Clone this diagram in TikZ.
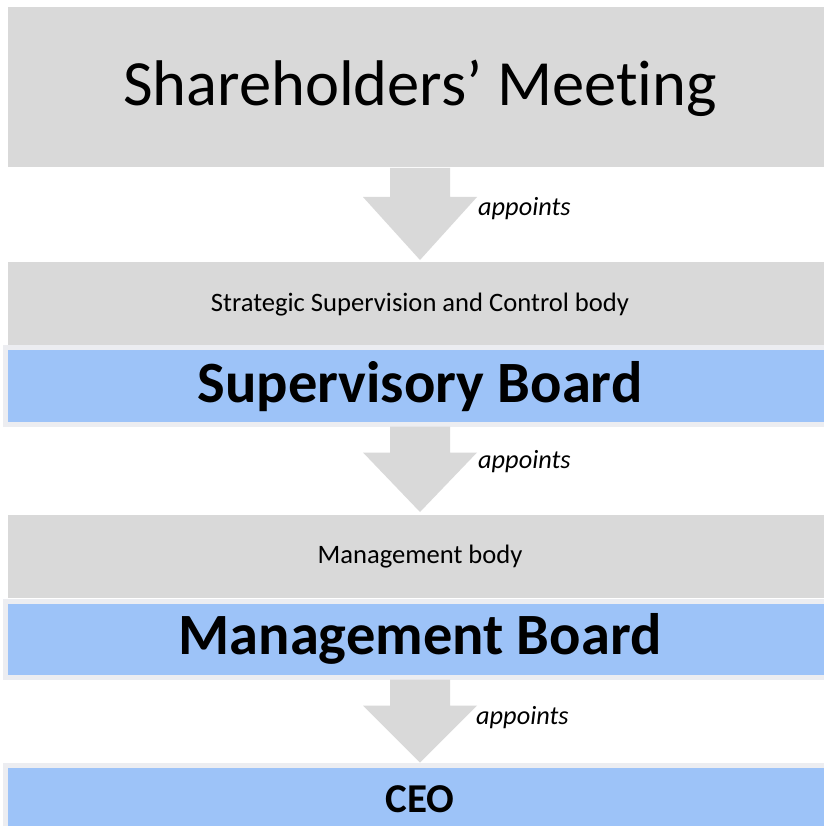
\documentclass[tikz,border=0pt]{standalone}
\usepackage{fontspec}
\setmainfont{Carlito}[Ligatures=NoCommon]
\usetikzlibrary{calc}
\definecolor{boxgray}{RGB}{217,217,217}
\definecolor{boxblue}{RGB}{157,195,248}
\definecolor{glowc}{RGB}{236,237,241}
\begin{document}
\begin{tikzpicture}[x=1pt,y=-1pt,
  graybox/.style={fill=boxgray,draw=none,minimum width=824pt,inner sep=0pt,outer sep=0pt},
  bluebox/.style={fill=boxblue,draw=glowc,line width=5pt,minimum width=829pt,inner sep=0pt,outer sep=0pt},
  bigtxt/.style={anchor=base,inner sep=0pt,font=\fontsize{64.5}{70}\selectfont},
  smalltxt/.style={anchor=base,inner sep=0pt,font=\fontsize{26.6}{30}\selectfont},
  boldtxt/.style={anchor=base,inner sep=0pt,font=\fontsize{58.5}{62}\selectfont\bfseries},
  ceotxt/.style={anchor=base,inner sep=0pt,font=\fontsize{41}{45}\selectfont\bfseries},
  apptxt/.style={anchor=base west,inner sep=0pt,font=\fontsize{26.3}{30}\selectfont\itshape},
  blockarrow/.style={fill=boxgray,draw=none}]
\useasboundingbox (0,0) rectangle (823,826);
\fill[white] (0,0) rectangle (823,826);
% boxes
\node[graybox,minimum height=160pt] (sm) at (420,87) {};
\node[graybox,minimum height=83pt] (sc) at (420,303.5) {};
\node[bluebox,minimum height=77pt] (sb) at (420,386) {};
\node[graybox,minimum height=83pt] (mbody) at (420,556.5) {};
\node[bluebox,minimum height=76pt] (mb) at (420,639.5) {};
\node[bluebox,minimum height=74pt] (ceo) at (420,802) {};
% texts
\node[bigtxt] (smt) at (420,106) {Shareholders’ Meeting};
\node[smalltxt] (sct) at (420,311) {Strategic Supervision and Control body};
\node[boldtxt] (sbt) at (420,402) {Supervisory Board};
\node[smalltxt] (mbodyt) at (420,563) {Management body};
\node[boldtxt] (mbt) at (420,654) {Management Board};
\node[ceotxt] (ceot) at (420,812) {CEO};
% arrows
\fill[blockarrow] ($(sm.south)+(-30,1)$) -- ($(sm.south)+(30,1)$) -- ($(sm.south)+(30,30)$)
  -- ($(sm.south)+(57,30)$) -- ($(sc.north)+(0,-2)$) -- ($(sm.south)+(-57,30)$)
  -- ($(sm.south)+(-30,30)$) -- cycle;
\fill[blockarrow] ($(sb.south)+(-30,2)$) -- ($(sb.south)+(30,2)$) -- ($(sb.south)+(30,28)$)
  -- ($(sb.south)+(57,28)$) -- ($(mbody.north)+(0,-3)$) -- ($(sb.south)+(-57,28)$)
  -- ($(sb.south)+(-30,28)$) -- cycle;
\fill[blockarrow] ($(mb.south)+(-30,2)$) -- ($(mb.south)+(30,2)$) -- ($(mb.south)+(30,28)$)
  -- ($(mb.south)+(57,28)$) -- ($(ceo.north)+(0,-2.5)$) -- ($(mb.south)+(-57,28)$)
  -- ($(mb.south)+(-30,28)$) -- cycle;
% labels
\node[apptxt] (a1) at (478,215) {appoints};
\node[apptxt] (a2) at (478,468) {appoints};
\node[apptxt] (a3) at (476,724) {appoints};
\end{tikzpicture}
\end{document}
